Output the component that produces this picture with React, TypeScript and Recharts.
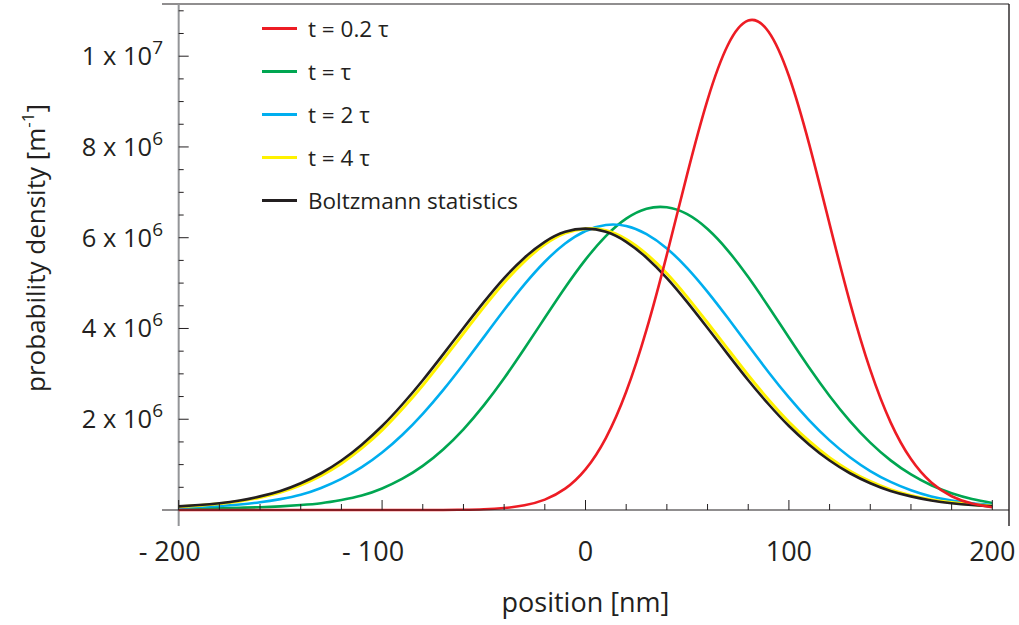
import { LineChart, Line, XAxis, YAxis, ReferenceLine, Legend, Label } from "recharts";

// position along the trap [nm]
const positions = [
  -200, -190, -180, -170, -160, -150, -140, -130, -120, -110, -100, -90, -80, -70, -60, -50, -40, -30, -20, -10,
  0, 10, 20, 30, 40, 50, 60, 70, 80, 90, 100, 110, 120, 130, 140, 150, 160, 170, 180, 190, 200,
];

// probability density, in units of 10^6 m^-1
const t02 = [
  0, 0, 0, 0, 0, 0, 0, 0, 0, 0, 0, 0, 0, 0, 0.006, 0.017, 0.043, 0.103, 0.229, 0.47,
  0.895, 1.585, 2.604, 3.973, 5.628, 7.402, 9.039, 10.247, 10.786, 10.54, 9.563, 8.056, 6.3, 4.576, 3.086, 1.931, 1.122, 0.606, 0.303, 0.141, 0.061,
];
const t1 = [
  0.03, 0.035, 0.04, 0.05, 0.06, 0.08, 0.11, 0.15, 0.22, 0.318, 0.475, 0.689, 0.972, 1.334, 1.778, 2.305, 2.904, 3.557, 4.235, 4.903,
  5.517, 6.036, 6.419, 6.637, 6.67, 6.518, 6.191, 5.717, 5.132, 4.479, 3.8, 3.134, 2.513, 1.959, 1.484, 1.093, 0.783, 0.545, 0.369, 0.243, 0.155,
];
const t2 = [
  0.05, 0.07, 0.09, 0.12, 0.17, 0.24, 0.335, 0.486, 0.685, 0.943, 1.267, 1.659, 2.12, 2.642, 3.212, 3.809, 4.406, 4.971, 5.47, 5.872,
  6.149, 6.28, 6.257, 6.08, 5.764, 5.33, 4.806, 4.229, 3.629, 3.037, 2.48, 1.975, 1.534, 1.163, 0.859, 0.62, 0.436, 0.299, 0.21, 0.15, 0.11,
];
const t4 = [
  0.072, 0.1, 0.137, 0.193, 0.277, 0.39, 0.55, 0.759, 1.027, 1.363, 1.761, 2.23, 2.749, 3.314, 3.894, 4.47, 5.013, 5.48, 5.853, 6.1,
  6.2, 6.16, 5.967, 5.64, 5.21, 4.69, 4.126, 3.546, 2.97, 2.431, 1.94, 1.516, 1.153, 0.861, 0.63, 0.45, 0.323, 0.227, 0.163, 0.12, 0.088,
];
const boltzmann = [
  0.08, 0.11, 0.15, 0.21, 0.3, 0.42, 0.59, 0.81, 1.09, 1.44, 1.85, 2.33, 2.86, 3.43, 4.01, 4.58, 5.11, 5.56, 5.91, 6.13,
  6.2, 6.13, 5.91, 5.56, 5.11, 4.58, 4.01, 3.43, 2.86, 2.33, 1.85, 1.44, 1.09, 0.81, 0.59, 0.42, 0.3, 0.21, 0.15, 0.11, 0.08,
];

const seriesNames = ["t = 0.2 τ", "t = τ", "t = 2 τ", "t = 4 τ", "Boltzmann statistics"];
const seriesKeys = ["t02", "t1", "t2", "t4", "boltzmann"];
const seriesColors = ["#ed1c24", "#00a651", "#00aeef", "#fff200", "#231f20"];

const xTicks = [
  -200, -180, -160, -140, -120, -100, -80, -60, -40, -20, 0, 20, 40, 60, 80, 100, 120, 140, 160, 180, 200,
];
const xTickLabels: Record<number, string> = { [-200]: "- 200", [-100]: "- 100", 0: "0", 100: "100", 200: "200" };

const yTicks = [
  0.5e6, 1e6, 1.5e6, 2e6, 2.5e6, 3e6, 3.5e6, 4e6, 4.5e6, 5e6, 5.5e6, 6e6, 6.5e6, 7e6, 7.5e6, 8e6, 8.5e6, 9e6, 9.5e6, 1e7, 1.05e7, 1.1e7,
];
const yTickLabels: Record<number, [string, string]> = {
  2e6: ["2 x 10", "6"],
  4e6: ["4 x 10", "6"],
  6e6: ["6 x 10", "6"],
  8e6: ["8 x 10", "6"],
  1e7: ["1 x 10", "7"],
};

const X_DOMAIN: [number, number] = [-208.2, 208.2];
const Y_DOMAIN: [number, number] = [0, 11.15e6];
const Y_BELOW = -0.35e6; // how far the vertical lines run below the x axis

const W = 1019;
const H = 625;
const MARGIN = { top: 4, right: 10, left: 0, bottom: 0 };
const Y_AXIS_W = 162;
const X_AXIS_H = 115;
const PLOT_W = W - MARGIN.left - MARGIN.right - Y_AXIS_W;
// px from plot left edge to x = -200, where the y axis is drawn
const Y_AXIS_OFFSET = ((-200 - X_DOMAIN[0]) / (X_DOMAIN[1] - X_DOMAIN[0])) * PLOT_W;

const FONT = "'Open Sans', sans-serif";
const INK = "#231f20";

const data = positions.map((x, i) => ({
  x,
  t02: t02[i] * 1e6,
  t1: t1[i] * 1e6,
  t2: t2[i] * 1e6,
  t4: t4[i] * 1e6,
  boltzmann: boltzmann[i] * 1e6,
}));

function XTick(props: any) {
  const { x, y, payload } = props;
  const label = xTickLabels[payload.value];
  const major = label !== undefined;
  const neg = payload.value < 0;
  return (
    <g>
      <line x1={x} x2={x} y1={y} y2={y - (major ? 10 : 6)} stroke={INK} strokeWidth={1} />
      {major && (
        <text x={neg ? x - 9 : x} y={y + 51} textAnchor="middle" fontFamily={FONT} fontSize={27} fill={INK}>
          {label}
        </text>
      )}
    </g>
  );
}

function YTick(props: any) {
  const { x, y, payload } = props;
  const label = yTickLabels[payload.value];
  const ax = x + Y_AXIS_OFFSET;
  return (
    <g>
      <line x1={ax} x2={ax + (label ? 10 : 5)} y1={y} y2={y} stroke={INK} strokeWidth={1} />
      {label && (
        <text x={x + 1} y={y + 9} textAnchor="end" fontFamily={FONT} fontSize={25.5} fill={INK}>
          {label[0]}
          <tspan dy={-11} fontSize={19}>
            {label[1]}
          </tspan>
        </text>
      )}
    </g>
  );
}

function YTitle() {
  const cx = 45;
  const cy = 248;
  return (
    <text
      x={cx}
      y={cy}
      transform={`rotate(-90, ${cx}, ${cy})`}
      textAnchor="middle"
      fontFamily={FONT}
      fontSize={26}
      fill={INK}
    >
      probability density [m
      <tspan dy={-11} fontSize={17}>
        -1
      </tspan>
      <tspan dy={11}>]</tspan>
    </text>
  );
}

function LegendBox() {
  return (
    <div style={{ fontFamily: FONT, fontSize: 22.5, color: INK }}>
      {seriesNames.map((name, i) => (
        <div key={name} style={{ display: "flex", alignItems: "center", height: 42.9 }}>
          <div style={{ width: 35, height: 3, background: seriesColors[i], marginRight: 11 }} />
          <span style={{ whiteSpace: "nowrap" }}>{name}</span>
        </div>
      ))}
    </div>
  );
}

// drawing order: black over yellow, red on top
const drawOrder = [1, 2, 3, 4, 0];

export default function App() {
  return (
    <div style={{ position: "absolute", left: 0, top: 0, background: "#fff" }}>
      <LineChart width={W} height={H} data={data} margin={MARGIN}>
        <XAxis
          dataKey="x"
          type="number"
          domain={X_DOMAIN}
          ticks={xTicks}
          interval={0}
          tickSize={0}
          tickMargin={0}
          tickLine={false}
          tick={<XTick />}
          axisLine={{ stroke: INK, strokeWidth: 1.2 }}
          height={X_AXIS_H}
        >
          <Label
            value="position [nm]"
            position="insideBottom"
            offset={13}
            style={{ fontFamily: FONT, fontSize: 27, fill: INK }}
          />
        </XAxis>
        <YAxis
          type="number"
          domain={Y_DOMAIN}
          ticks={yTicks}
          interval={0}
          tickSize={0}
          tickMargin={0}
          tickLine={false}
          axisLine={false}
          tick={<YTick />}
          width={Y_AXIS_W}
        >
          <Label content={<YTitle />} />
        </YAxis>
        <ReferenceLine y={Y_DOMAIN[1]} stroke={INK} strokeWidth={1.2} />
        <ReferenceLine
          segment={[
            { x: X_DOMAIN[1], y: Y_BELOW },
            { x: X_DOMAIN[1], y: Y_DOMAIN[1] },
          ]}
          ifOverflow="visible"
          stroke={INK}
          strokeWidth={1.4}
        />
        <ReferenceLine
          segment={[
            { x: -200, y: Y_BELOW },
            { x: -200, y: Y_DOMAIN[1] },
          ]}
          ifOverflow="visible"
          stroke="#939598"
          strokeWidth={2}
        />
        {drawOrder.map((i) => (
          <Line
            key={seriesKeys[i]}
            type="natural"
            dataKey={seriesKeys[i]}
            name={seriesNames[i]}
            stroke={seriesColors[i]}
            strokeWidth={i === 3 ? 3 : 2.6}
            dot={false}
            activeDot={false}
            isAnimationActive={false}
          />
        ))}
        <Legend
          layout="vertical"
          align="center"
          verticalAlign="middle"
          content={<LegendBox />}
          wrapperStyle={{ left: 262, top: 7, width: 320, height: 215 }}
        />
      </LineChart>
    </div>
  );
}
